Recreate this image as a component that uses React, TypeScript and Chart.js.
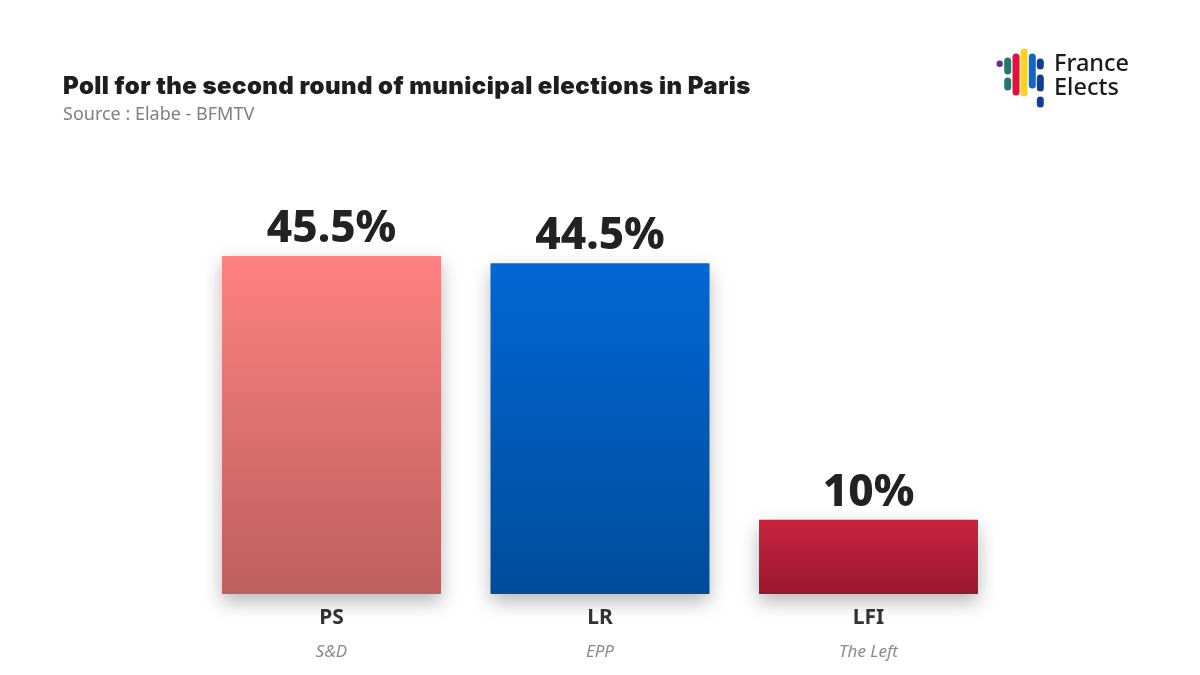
import { useEffect, useRef } from 'react';
import { Chart, registerables } from 'chart.js';
import type { Plugin } from 'chart.js';

Chart.register(...registerables);

const parties = ['PS', 'LR', 'LFI'];
const groups = ['S&D', 'EPP', 'The Left'];
const values = [45.5, 44.5, 10];
const valueLabels = ['45.5%', '44.5%', '10%'];

const topColors = ['#FF8181', '#0067D3', '#C9233F'];
const bottomColors = ['#BC5F5F', '#004C9B', '#98172E'];

const barShadow: Plugin<'bar'> = {
  id: 'barShadow',
  beforeDatasetsDraw(chart) {
    const { ctx } = chart;
    ctx.save();
    ctx.shadowColor = 'rgba(0, 0, 0, 0.28)';
    ctx.shadowBlur = 18;
    ctx.shadowOffsetY = 8;
  },
  afterDatasetsDraw(chart) {
    chart.ctx.restore();
  },
};

const valueLabelPlugin: Plugin<'bar'> = {
  id: 'valueLabels',
  afterDatasetsDraw(chart) {
    const { ctx } = chart;
    const bars = chart.getDatasetMeta(0).data;
    ctx.save();
    ctx.shadowColor = 'transparent';
    ctx.fillStyle = '#222222';
    ctx.textAlign = 'center';
    ctx.textBaseline = 'alphabetic';
    ctx.font = '800 44px "Noto Sans"';
    bars.forEach((bar, i) => {
      ctx.fillText(valueLabels[i], bar.x, bar.y - 14);
    });
    ctx.restore();
  },
};

function Logo() {
  const rounded = (x: number, y1: number, y2: number, color: string) => (
    <line x1={x} x2={x} y1={y1} y2={y2} stroke={color} strokeWidth={7} strokeLinecap="round" />
  );
  return (
    <svg width={60} height={70} viewBox="990 45 60 70" style={{ position: 'absolute', left: 990, top: 45 }}>
      <circle cx={999.7} cy={63.7} r={3.2} fill="#6A2C91" />
      {rounded(1007.7, 61, 71, '#1F7A6C')}
      {rounded(1007.7, 81, 87, '#1F7A6C')}
      {rounded(1016, 57, 92, '#E0103F')}
      {rounded(1024, 52, 93, '#FFD21F')}
      {rounded(1032.3, 57, 85, '#0F67C6')}
      {rounded(1040.3, 62, 66, '#0F3F94')}
      {rounded(1040.3, 78, 88, '#0F3F94')}
      {rounded(1040.3, 100, 104, '#0F3F94')}
    </svg>
  );
}

export default function App() {
  const canvasRef = useRef<HTMLCanvasElement>(null);

  useEffect(() => {
    if (!canvasRef.current) return;

    const chart = new Chart(canvasRef.current, {
      type: 'bar',
      data: {
        labels: parties,
        datasets: [
          {
            data: values,
            clip: false,
            categoryPercentage: 1,
            barPercentage: 0.8156,
            backgroundColor: (c) => {
              const y = c.chart.scales.y;
              const i = c.dataIndex;
              if (!y || i === undefined) return topColors[0];
              const y0 = y.getPixelForValue(values[i]);
              const y1 = y.getPixelForValue(0);
              if (!Number.isFinite(y0) || !Number.isFinite(y1)) return topColors[i];
              const g = c.chart.ctx.createLinearGradient(0, y0, 0, y1);
              g.addColorStop(0, topColors[i]);
              g.addColorStop(1, bottomColors[i]);
              return g;
            },
          },
        ],
      },
      options: {
        responsive: false,
        animation: false,
        layout: { padding: { left: 197.25, right: 197.25, top: 148.2, bottom: 0 } },
        plugins: {
          legend: { display: false },
          tooltip: { enabled: false },
        },
        scales: {
          y: { display: false, min: 0, max: 60 },
          x: {
            border: { display: false },
            grid: { display: false },
            ticks: {
              color: '#333333',
              padding: 3,
              font: { family: '"Noto Sans"', size: 21, weight: 700 },
            },
            afterFit: (scale) => {
              scale.height = 40;
            },
          },
          x2: {
            type: 'category',
            position: 'bottom',
            labels: groups,
            display: true,
            border: { display: false },
            grid: { display: false },
            ticks: {
              color: '#8A8A8A',
              padding: 0,
              font: { family: '"Noto Sans"', size: 17, style: 'italic' },
            },
            afterFit: (scale) => {
              scale.height = 41;
            },
          },
        },
      },
      plugins: [barShadow, valueLabelPlugin],
    });

    return () => {
      chart.destroy();
    };
  }, []);

  return (
    <div style={{ position: 'fixed', left: 0, top: 0, width: 1200, height: 675, background: '#fff', overflow: 'hidden' }}>
      <canvas ref={canvasRef} width={1200} height={675} style={{ position: 'absolute', left: 0, top: 0 }} />
      <div style={{ position: 'absolute', left: 63, top: 69, lineHeight: '34px', fontFamily: 'Inter', fontWeight: 900, fontSize: 24, letterSpacing: 0.42, color: '#1E1E1E', whiteSpace: 'nowrap' }}>
        Poll for the second round of municipal elections in Paris
      </div>
      <div style={{ position: 'absolute', left: 63, top: 100, lineHeight: '26px', fontFamily: '"Noto Sans"', fontSize: 18, color: '#808080', whiteSpace: 'nowrap' }}>
        Source : Elabe - BFMTV
      </div>
      <Logo />
      <div style={{ position: 'absolute', left: 1054, top: 50, lineHeight: '24px', fontFamily: '"Noto Sans"', fontWeight: 500, fontSize: 23.5, color: '#1A1A1A' }}>
        France<br />Elects
      </div>
    </div>
  );
}
